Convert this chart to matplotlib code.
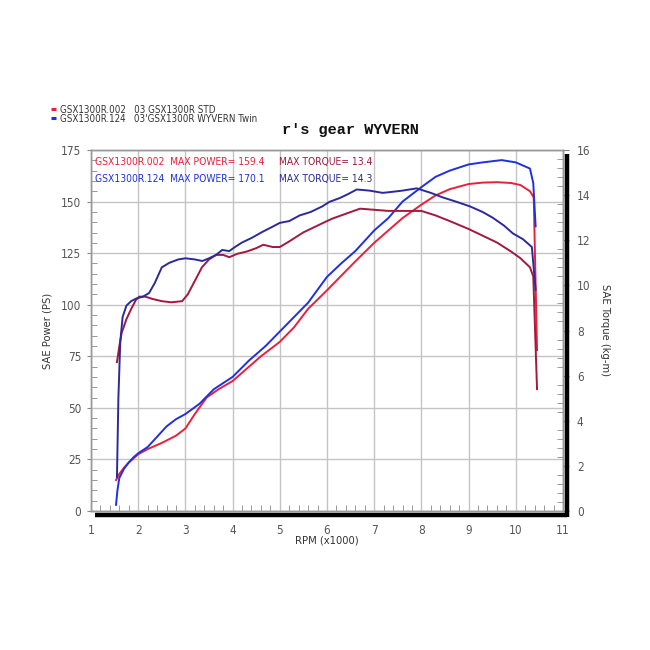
import matplotlib
matplotlib.use("Agg")
import matplotlib.pyplot as plt
import matplotlib.font_manager as fm
from matplotlib.ticker import MultipleLocator
from matplotlib.lines import Line2D

# ---------------- data ----------------
std_power_rpm = [1.53, 1.6, 1.7, 1.8, 1.9, 2.0, 2.2, 2.5, 2.8, 3.0, 3.2, 3.45, 3.7, 4.0, 4.3,
                 4.6, 5.0, 5.3, 5.6, 6.0, 6.3, 6.6, 7.0, 7.3, 7.6, 8.0, 8.3, 8.6, 9.0, 9.3,
                 9.6, 9.9, 10.1, 10.3, 10.38, 10.45]
std_power = [15, 18, 21, 23.5, 25.5, 27.5, 30, 33, 36.5, 40, 47, 55, 59, 63, 69,
             75, 82, 89, 98, 107, 114, 121, 130, 136, 142, 148.5, 153, 156, 158.5, 159.2,
             159.4, 159, 158, 155, 152, 78]

wyv_power_rpm = [1.53, 1.56, 1.6, 1.7, 1.8, 1.9, 2.0, 2.2, 2.4, 2.6, 2.8, 3.0, 3.3, 3.6, 4.0,
                 4.35, 4.7, 5.0, 5.3, 5.6, 6.0, 6.3, 6.6, 7.0, 7.3, 7.6, 8.0, 8.3, 8.6, 9.0,
                 9.3, 9.7, 10.0, 10.2, 10.3, 10.37, 10.42]
wyv_power = [3, 10, 16, 20.5, 23.5, 26, 28, 31, 36, 41, 44.5, 47, 52, 59, 65,
             73, 80, 87, 94, 101, 113.5, 120, 126, 136, 142, 150, 157, 162, 165, 168,
             169, 170.1, 169, 167, 166, 159, 138]

std_torque_rpm = [1.55, 1.6, 1.65, 1.75, 1.85, 1.95, 2.02, 2.15, 2.3, 2.5, 2.7, 2.93, 3.05, 3.2,
                  3.35, 3.5, 3.65, 3.8, 3.93, 4.1, 4.3, 4.5, 4.65, 4.85, 5.0, 5.2, 5.5, 5.7,
                  5.9, 6.1, 6.3, 6.5, 6.7, 7.0, 7.3, 7.6, 8.0, 8.3, 8.6, 9.0, 9.3, 9.6, 9.9,
                  10.1, 10.3, 10.37, 10.45]
std_torque = [6.6, 7.3, 7.9, 8.5, 8.95, 9.35, 9.5, 9.5, 9.4, 9.3, 9.25, 9.3, 9.6, 10.2,
              10.8, 11.15, 11.35, 11.35, 11.25, 11.4, 11.5, 11.65, 11.8, 11.7, 11.7, 11.95, 12.35, 12.55,
              12.75, 12.95, 13.1, 13.25, 13.4, 13.35, 13.3, 13.3, 13.3, 13.1, 12.85, 12.5, 12.2, 11.9, 11.5,
              11.2, 10.8, 10.4, 5.4]

wyv_torque_rpm = [1.55, 1.58, 1.62, 1.67, 1.75, 1.85, 1.96, 2.1, 2.23, 2.35, 2.5, 2.66, 2.85, 3.0,
                  3.2, 3.36, 3.5, 3.65, 3.78, 3.93, 4.05, 4.2, 4.4, 4.63, 4.8, 5.0, 5.2, 5.42,
                  5.65, 5.9, 6.05, 6.27, 6.45, 6.63, 6.9, 7.18, 7.4, 7.6, 7.9, 8.2, 8.45, 8.75,
                  9.03, 9.3, 9.51, 9.75, 9.94, 10.15, 10.34, 10.42]
wyv_torque = [1.5, 5.0, 7.5, 8.6, 9.1, 9.3, 9.42, 9.5, 9.66, 10.1, 10.8, 11.0, 11.15, 11.2,
              11.15, 11.08, 11.2, 11.35, 11.57, 11.52, 11.7, 11.9, 12.1, 12.37, 12.55, 12.77, 12.85, 13.1,
              13.25, 13.5, 13.7, 13.87, 14.05, 14.25, 14.2, 14.1, 14.15, 14.2, 14.3, 14.1, 13.9, 13.7,
              13.5, 13.25, 13.0, 12.65, 12.3, 12.05, 11.7, 9.8]

legend_ids = ["GSX1300R.002", "GSX1300R.124"]
legend_names = ["03 GSX1300R STD", "03'GSX1300R WYVERN Twin"]
max_power = ["159.4", "170.1"]
max_torque = ["13.4", "14.3"]

C_STD_P = "#e8203c"
C_STD_T = "#a2183e"
C_WYV_P = "#2030e0"
C_WYV_T = "#2a2a9c"

# ---------------- narrow font lookup ----------------
def find_narrow():
    prefs = ["liberationsansnarrow-regular", "dejavusanscondensed.ttf", "robotocondensed-regular",
             "notosans-condensed.ttf", "opensans_condensed-regular", "opensans-condensed",
             "roboto_condensed-regular", "notosans-condensed"]
    files = [f.fname for f in fm.fontManager.ttflist]
    for p in prefs:
        for fn in files:
            if p in fn.lower().replace(" ", ""):
                return fn, True
    return None, False

narrow_file, have_narrow = find_narrow()

def fprop(size):
    if have_narrow:
        return fm.FontProperties(fname=narrow_file, size=size)
    return fm.FontProperties(family=["Liberation Sans", "DejaVu Sans"], size=size * 0.88)

W, H = 650, 650
fig = plt.figure(figsize=(6.5, 6.5), dpi=100)
L, R, T, B = 91, 563, 150, 511
ax = fig.add_axes([L / W, 1 - B / H, (R - L) / W, (B - T) / H])
ax2 = ax.twinx()

ax.plot(std_power_rpm, std_power, color=C_STD_P, lw=1.4, zorder=3)
ax.plot(wyv_power_rpm, wyv_power, color=C_WYV_P, lw=1.4, zorder=3)
ax2.plot(std_torque_rpm, std_torque, color=C_STD_T, lw=1.4, zorder=3)
ax2.plot(wyv_torque_rpm, wyv_torque, color=C_WYV_T, lw=1.4, zorder=3)

ax.set_xlim(1, 11)
ax.set_ylim(0, 175)
ax2.set_ylim(0, 16)

ax.xaxis.set_major_locator(MultipleLocator(1))
ax.xaxis.set_minor_locator(MultipleLocator(0.2))
ax.yaxis.set_major_locator(MultipleLocator(25))
ax.yaxis.set_minor_locator(MultipleLocator(5))
ax2.yaxis.set_major_locator(MultipleLocator(2))
ax2.yaxis.set_minor_locator(MultipleLocator(0.4))

ax.grid(True, which="major", color="#c4c4c4", lw=1.0)
ax.set_axisbelow(True)

tc = "#555555"
ax.tick_params(axis="x", which="major", direction="in", length=0, pad=9, colors=tc)
ax.tick_params(axis="x", which="minor", direction="in", length=4, color="#888888")
ax.tick_params(axis="y", which="major", direction="out", length=3, pad=4, colors=tc, color="#888888")
ax.tick_params(axis="y", which="minor", direction="in", length=4, color="#888888")
ax2.tick_params(axis="y", which="major", direction="out", length=4, pad=6, colors=tc, color="#888888")
ax2.tick_params(axis="y", which="minor", direction="in", length=4, color="#888888")

fig.canvas.draw()
for lab in ax.get_xticklabels() + ax.get_yticklabels() + ax2.get_yticklabels():
    lab.set_fontproperties(fprop(8.5))

for a in (ax, ax2):
    for s in a.spines.values():
        s.set_color("#999999")
        s.set_linewidth(1.0)

ax.set_xlabel("RPM (x1000)", fontproperties=fprop(8), color="#333333", labelpad=-1)
ax.set_ylabel("SAE Power (PS)", fontproperties=fprop(8), color="#333333", labelpad=6)
ax2.set_ylabel("SAE Torque (kg-m)", fontproperties=fprop(8), color="#333333", rotation=270, labelpad=14)

# shadow frame (black bars along bottom and right)
sh = 3
fig.add_artist(Line2D([(L + 4) / W, (R + sh + 1) / W], [1 - (B + sh + 1) / H] * 2,
                      color="black", lw=3.2, solid_capstyle="butt"))
fig.add_artist(Line2D([(R + sh + 1) / W] * 2, [1 - (T + 4) / H, 1 - (B + sh + 2.5) / H],
                      color="black", lw=3.2, solid_capstyle="butt"))

# in-plot annotations
for i, (cp, ct) in enumerate([(C_STD_P, C_STD_T), (C_WYV_P, C_WYV_T)]):
    yy = 0.966 - i * 0.047
    ax.text(0.009, yy, legend_ids[i] + "  MAX POWER= " + max_power[i], transform=ax.transAxes,
            color=cp, fontproperties=fprop(7.4), va="center")
    ax.text(0.398, yy, "MAX TORQUE= " + max_torque[i], transform=ax.transAxes, color=ct,
            fontproperties=fprop(7.4), va="center")

# legend at top-left
for i, c in enumerate([C_STD_P, C_WYV_P]):
    yy = 1 - (110 + i * 9) / H
    fig.add_artist(Line2D([51 / W, 56 / W], [yy + 0.002] * 2, color=c, lw=2.2, solid_capstyle="butt"))
    fig.text(60 / W, yy, legend_ids[i] + "   " + legend_names[i], fontproperties=fprop(7),
             color="#333333", va="center")

fig.text(350 / W, 1 - 130 / H, "r's gear WYVERN", fontsize=11, family=["Liberation Mono", "DejaVu Sans Mono"],
         ha="center", va="center", color="#111111", weight="semibold")

fig.savefig("out.png", dpi=100, facecolor="white")
